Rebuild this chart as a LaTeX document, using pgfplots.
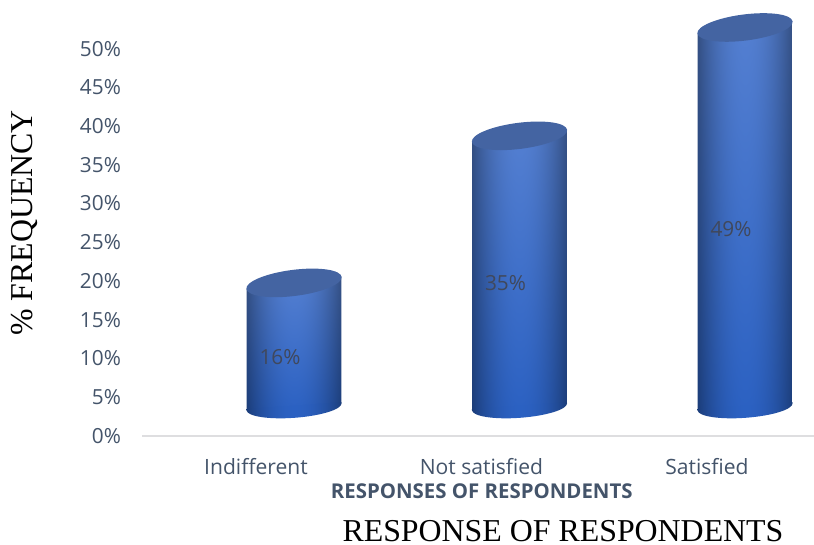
\documentclass[border=0pt]{standalone}
\usepackage{fontspec}
\setmainfont{Open Sans}
\newfontfamily\serifface{Liberation Serif}
\usepackage{pgfplots}
\pgfplotsset{compat=1.18}

\definecolor{slatetext}{RGB}{68,84,106}
\definecolor{axisgrey}{RGB}{222,222,224}
\definecolor{valuetext}{RGB}{64,72,92}
\definecolor{captop}{RGB}{68,100,162}

% Cylinder wall: lighter towards the top, edges falling off into shadow.
\pgfdeclarefunctionalshading{cylinderwall}{\pgfpointorigin}{\pgfpoint{100bp}{100bp}}{}{
  25 sub 50 div exch 25 sub 50 div
  0.5 sub abs dup mul 1.5 mul 1 exch sub
  exch
  dup 0.16 mul 0.17 add 2 index mul
  exch dup 0.12 mul 0.38 add 3 index mul
  exch 0.06 mul 0.76 add 3 index mul
  4 -1 roll pop
}
% Foot: the same fall-off as the wall, at the wall's lowest colour.
\pgfdeclarefunctionalshading{cylinderfoot}{\pgfpointorigin}{\pgfpoint{100bp}{100bp}}{}{
  pop 25 sub 50 div
  0.5 sub abs dup mul 1.5 mul 1 exch sub
  dup 0.17 mul exch dup 0.38 mul exch 0.76 mul
}

% Elliptical cap and foot; the tilt follows the viewing angle of the cylinders.
\pgfdeclareplotmark{cylcap}{%
  \pgfpathellipse{\pgfpointorigin}{\pgfpointpolar{7.2}{36pt}}{\pgfpointpolar{97.2}{9.8pt}}%
  \pgfusepathqfill}
\pgfdeclareplotmark{cylfoot}{%
  \pgftransformrotate{4.2}%
  \pgfpathmoveto{\pgfpoint{-35.75pt}{0.8pt}}%
  \pgfpathlineto{\pgfpoint{-35.75pt}{0pt}}%
  \pgfpatharc{180}{360}{35.75pt and 8.3pt}%
  \pgfpathlineto{\pgfpoint{35.75pt}{0.8pt}}%
  \pgfpathclose
  \pgfshadepath{cylinderfoot}{0}%
  \pgfusepath{discard}}

\begin{document}
\begin{tikzpicture}
\useasboundingbox (0,0) rectangle (610.5pt,408pt);
\begin{axis}[
  at={(106.5pt,81.2pt)}, anchor=south west,
  scale only axis, width=504pt, height=290.25pt,
  xmin=-0.5055, xmax=2.4745, ymin=0, ymax=50,
  clip=false,
  axis y line=none, axis x line*=bottom,
  axis line style={draw=axisgrey, line width=1.5pt, -},
  /pgf/number format/assume math mode=true,
  xtick={0,1,2}, xticklabels={Indifferent,Not satisfied,Satisfied},
  major tick length=0pt,
  x tick label style={text=slatetext, font=\fontsize{15.8}{18}\selectfont, yshift=-13.5pt},
  xlabel={\textbf{RESPONSES OF RESPONDENTS}},
  xlabel style={at={(axis cs:1,0)}, anchor=center, yshift=-41.5pt, xshift=0.2pt,
    text=slatetext, font=\fontsize{15.3}{18}\selectfont},
  cylinder/.style={yshift=21.75pt, xshift=28.5pt},
]
% Foot of each cylinder, on the zero line
\addplot[cylinder, only marks, mark=cylfoot] coordinates {(0,0) (1,0) (2,0)};
% Walls
\addplot[cylinder, draw=none, shade, shading=cylinderwall]
  coordinates {(-0.2106,-0.45) (-0.2106,15.22) (0.2106,16.78) (0.2106,0.45)} -- cycle;
\addplot[cylinder, draw=none, shade, shading=cylinderwall]
  coordinates {(0.7894,-0.45) (0.7894,34.22) (1.2106,35.78) (1.2106,0.45)} -- cycle;
\addplot[cylinder, draw=none, shade, shading=cylinderwall]
  coordinates {(1.7894,-0.45) (1.7894,48.22) (2.2106,49.78) (2.2106,0.45)} -- cycle;
% Caps at the plotted values
\addplot[cylinder, only marks, mark=cylcap, mark options={fill=captop, draw=none}]
  coordinates {(0,16) (1,35) (2,49)};
% Value labels, at half the height of each cylinder
\addplot[only marks, mark=none, point meta=explicit,
  nodes near coords={\pgfmathprintnumber{\pgfplotspointmeta}\%},
  every node near coord/.style={anchor=center, text=valuetext,
    font=\fontsize{15.6}{18}\selectfont, xshift=18pt, yshift=12.7pt}]
  coordinates {(0,8)[16] (1,17.5)[35] (2,24.5)[49]};
% Percentage scale, set as labels without an axis line
\addplot[only marks, mark=none, point meta=explicit,
  nodes near coords={\pgfmathprintnumber{\pgfplotspointmeta}\%},
  every node near coord/.style={anchor=east, text=slatetext,
    font=\fontsize{15.6}{18}\selectfont, xshift=-12.3pt}]
  coordinates {(-0.5055,0)[0] (-0.5055,5)[5] (-0.5055,10)[10] (-0.5055,15)[15]
    (-0.5055,20)[20] (-0.5055,25)[25] (-0.5055,30)[30] (-0.5055,35)[35]
    (-0.5055,40)[40] (-0.5055,45)[45] (-0.5055,50)[50]};
\end{axis}
\node[font=\serifface\fontsize{23.9}{26}\selectfont, text=black] at (422.25pt,9.5pt) {RESPONSE OF RESPONDENTS};
\node[font=\serifface\fontsize{23.9}{26}\selectfont, text=black, rotate=90] at (18pt,240.75pt) {\% FREQUENCY};
\end{tikzpicture}
\end{document}
